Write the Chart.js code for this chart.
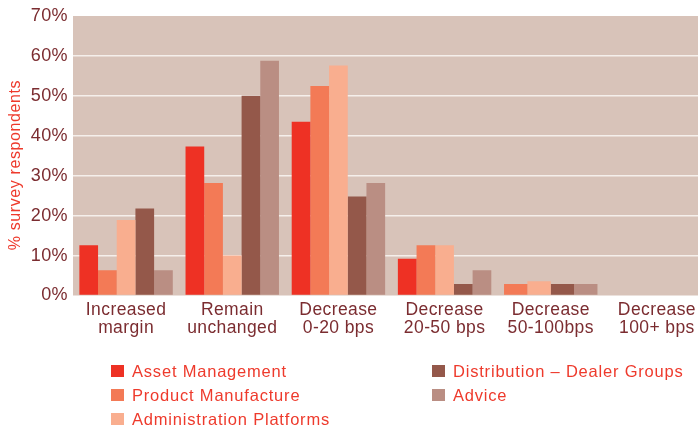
<!DOCTYPE html>
<html lang="en">
<head>
<meta charset="UTF-8">
<title>Expected margin change by sector</title>
<script src="https://cdn.jsdelivr.net/npm/chart.js@4.4.1/dist/chart.umd.min.js"></script>
<style>
  html, body { margin: 0; padding: 0; overflow: hidden; background: #fff; }
  #wrap { width: 710px; height: 430px; }
</style>
</head>
<body>
<div id="wrap"><canvas id="chart" width="710" height="430"></canvas></div>
<script>
// categories (two-line labels) and one array per sector, % of respondents
const categories = [
  ['Increased', 'margin'],
  ['Remain', 'unchanged'],
  ['Decrease', '0-20 bps'],
  ['Decrease', '20-50 bps'],
  ['Decrease', '50-100bps'],
  ['Decrease', '100+ bps']
];
const seriesNames = ['Asset Management', 'Product Manufacture', 'Administration Platforms', 'Distribution – Dealer Groups', 'Advice'];
// null = no respondents, bar is skipped so the rest stay centred
const assetMgmt    = [12.6, 37.3, 43.5, 9.2, null, null];
const productMfg   = [6.3, 28.2, 52.5, 12.6, 2.9, null];
const adminPlat    = [18.9, 10, 57.6, 12.6, 3.6, null];
const dealerGroups = [21.8, 50, 24.8, 2.9, 2.9, null];
const advice       = [6.3, 58.8, 28.2, 6.3, 2.9, null];
const yTicks = [0, 10, 20, 30, 40, 50, 60, 70];

const colors = ['#ee3124', '#f37a56', '#f9ae8f', '#94584a', '#ba8e83'];
const values = [assetMgmt, productMfg, adminPlat, dealerGroups, advice];

const FONT = "'Liberation Sans', Arial, Helvetica, sans-serif";
const tickColor = '#7b2c30';
const redText = '#ee3a2c';

// plot background + letter spacing for the axis text
const backdrop = {
  id: 'backdrop',
  beforeDraw(chart) {
    const { ctx, chartArea: a } = chart;
    ctx.save();
    ctx.fillStyle = '#d8c3b9';
    ctx.fillRect(a.left, a.top, a.right - a.left, a.bottom - a.top);
    ctx.restore();
    ctx.letterSpacing = '0.4px';
  }
};

// rotated axis title and the two-column legend
const extras = {
  id: 'extras',
  afterDraw(chart) {
    const ctx = chart.ctx;
    ctx.save();
    ctx.letterSpacing = '0.6px';
    ctx.fillStyle = redText;
    ctx.font = '16px ' + FONT;
    ctx.textAlign = 'center';
    ctx.textBaseline = 'middle';
    ctx.translate(16, 165);
    ctx.rotate(-Math.PI / 2);
    ctx.fillText('% survey respondents', 0, 0);
    ctx.restore();

    const slots = [[111, 371], [111, 395], [111, 419], [432, 371], [432, 395]];
    ctx.save();
    ctx.letterSpacing = '0.8px';
    ctx.font = '16.5px ' + FONT;
    ctx.textAlign = 'left';
    ctx.textBaseline = 'middle';
    seriesNames.forEach((name, i) => {
      const [x, y] = slots[i];
      ctx.fillStyle = colors[i];
      ctx.fillRect(x, y - 6, 13, 12);
      ctx.fillStyle = redText;
      ctx.fillText(name, x + 21, y + 1);
    });
    ctx.restore();
  }
};

const ctx = document.getElementById('chart').getContext('2d');
new Chart(ctx, {
  type: 'bar',
  data: {
    labels: categories,
    datasets: seriesNames.map((name, i) => ({
      label: name,
      data: values[i],
      backgroundColor: colors[i],
      borderWidth: 0,
      categoryPercentage: 0.88,
      barPercentage: 1,
      skipNull: true
    }))
  },
  options: {
    responsive: false,
    animation: false,
    devicePixelRatio: 1,
    layout: { padding: { top: 16, left: 0, right: 0, bottom: 0 } },
    plugins: { legend: { display: false }, tooltip: { enabled: false } },
    scales: {
      x: {
        grid: { display: false, drawTicks: false },
        border: { display: false },
        ticks: {
          color: tickColor,
          font: { family: FONT, size: 17.5, lineHeight: 1.05 },
          padding: 5,
          autoSkip: false,
          maxRotation: 0
        },
        afterFit(scale) { scale.height = 134.5; }
      },
      y: {
        min: 0,
        max: 70,
        afterBuildTicks(scale) { scale.ticks = yTicks.map(v => ({ value: v })); },
        grid: {
          drawTicks: false,
          lineWidth: 1.5,
          color: c => (c.tick && (c.tick.value === 0 || c.tick.value === 70)) ? 'rgba(0,0,0,0)' : '#f5efeb'
        },
        border: { display: false },
        ticks: {
          color: tickColor,
          font: { family: FONT, size: 18 },
          padding: 5,
          callback: v => v + '%'
        },
        afterFit(scale) { scale.width = 73; }
      }
    }
  },
  plugins: [backdrop, extras]
});
</script>
</body>
</html>
